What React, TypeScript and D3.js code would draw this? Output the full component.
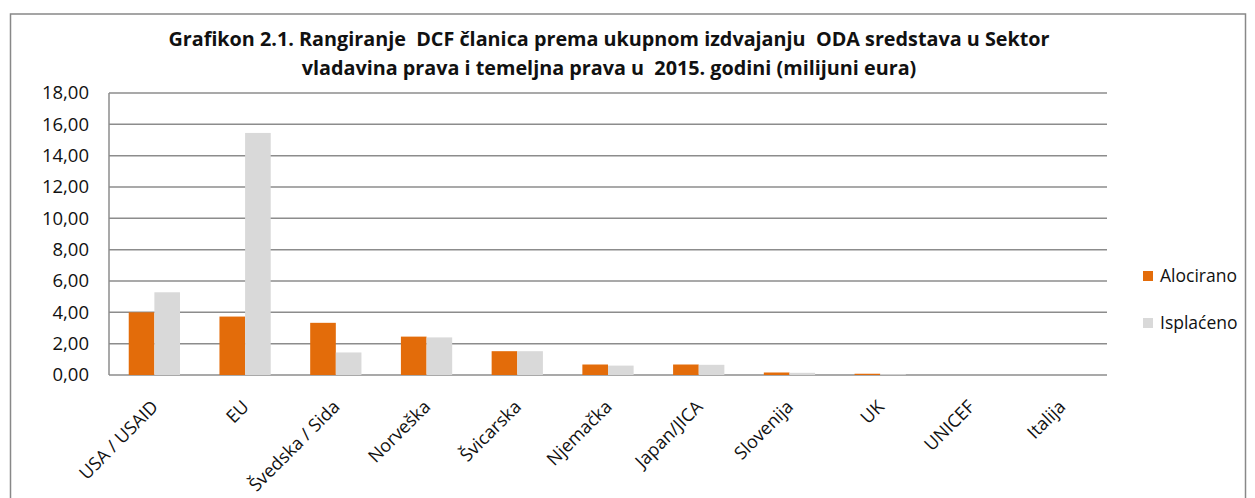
import React, { useEffect, useRef } from 'react';
import * as d3 from 'd3';

const categories = ['USA / USAID', 'EU', 'Švedska / Sida', 'Norveška', 'Švicarska', 'Njemačka', 'Japan/JICA', 'Slovenija', 'UK', 'UNICEF', 'Italija'];
const alocirano = [4.0, 3.73, 3.33, 2.45, 1.52, 0.67, 0.67, 0.16, 0.08, 0, 0];
const isplaceno = [5.28, 15.45, 1.44, 2.4, 1.52, 0.6, 0.65, 0.14, 0.05, 0, 0];
const seriesNames = ['Alocirano', 'Isplaćeno'];
const colors = ['#E36C0A', '#D9D9D9'];
const yTicks = [0, 2, 4, 6, 8, 10, 12, 14, 16, 18];
const titleLines = [
  'Grafikon 2.1. Rangiranje  DCF članica prema ukupnom izdvajanju  ODA sredstava u Sektor',
  'vladavina prava i temeljna prava u  2015. godini (milijuni eura)',
];

const App = () => {
  const chartRef = useRef(null);

  useEffect(() => {
    document.body.style.margin = '0';
    const W = 1255;
    const H = 498;
    const margin = { top: 93, right: 148, bottom: 123, left: 109 };
    const width = W - margin.left - margin.right;
    const height = H - margin.top - margin.bottom;
    const font = '"Open Sans", Lato, sans-serif';

    d3.select(chartRef.current).selectAll('*').remove();
    const root = d3
      .select(chartRef.current)
      .append('svg')
      .attr('width', W)
      .attr('height', H)
      .style('display', 'block');

    root.append('rect')
      .attr('x', 10.5).attr('y', 14).attr('width', 1235).attr('height', 500)
      .attr('fill', '#fff').attr('stroke', '#888').attr('stroke-width', 1.5);

    root.selectAll('text.title')
      .data(titleLines)
      .enter()
      .append('text')
      .attr('class', 'title')
      .attr('x', 609)
      .attr('y', (d, i) => 46 + i * 29)
      .attr('text-anchor', 'middle')
      .attr('font-family', font)
      .attr('font-weight', 'bold')
      .attr('font-size', 19.8)
      .attr('fill', '#111')
      .style('white-space', 'pre')
      .text((d) => d);

    const svg = root.append('g').attr('transform', `translate(${margin.left}, ${margin.top})`);

    const x = d3.scaleBand().domain(categories).range([0, width]);
    const inner = d3.scaleBand().domain(seriesNames).range([0, x.bandwidth() * 0.565]);
    const y = d3.scaleLinear().domain([0, 18]).range([height, 0]);

    svg.selectAll('line.grid')
      .data(yTicks)
      .enter()
      .append('line')
      .attr('x1', 0).attr('x2', width)
      .attr('y1', (d) => y(d)).attr('y2', (d) => y(d))
      .attr('stroke', '#8c8c8c').attr('stroke-width', 1.5);

    svg.append('line')
      .attr('x1', 0).attr('x2', 0).attr('y1', 0).attr('y2', height)
      .attr('stroke', '#8c8c8c').attr('stroke-width', 1.5);

    svg.selectAll('text.ytick')
      .data(yTicks)
      .enter()
      .append('text')
      .attr('x', -20)
      .attr('y', (d) => y(d))
      .attr('dy', '0.35em')
      .attr('text-anchor', 'end')
      .attr('font-family', font)
      .attr('font-size', 18.5)
      .attr('fill', '#111')
      .text((d) => d.toFixed(2).replace('.', ','));

    const offset = (x.bandwidth() - inner.range()[1]) / 2;
    [alocirano, isplaceno].forEach((vals, s) => {
      svg.selectAll(`rect.s${s}`)
        .data(vals)
        .enter()
        .append('rect')
        .attr('x', (d, i) => x(categories[i]) + offset + inner(seriesNames[s]))
        .attr('y', (d) => y(d))
        .attr('width', inner.bandwidth())
        .attr('height', (d) => height - y(d))
        .attr('fill', colors[s]);
    });

    svg.selectAll('text.xlab')
      .data(categories)
      .enter()
      .append('text')
      .attr('transform', (d) => `translate(${x(d) + x.bandwidth() / 2 + 5}, ${height + 33}) rotate(-45)`)
      .attr('text-anchor', 'end')
      .attr('font-family', font)
      .attr('font-size', 18)
      .attr('fill', '#111')
      .text((d) => d);

    const legend = root.append('g').attr('transform', 'translate(1143, 276)');
    seriesNames.forEach((name, i) => {
      legend.append('rect')
        .attr('x', 0).attr('y', i * 47 - 5).attr('width', 10).attr('height', 10)
        .attr('fill', colors[i]);
      legend.append('text')
        .attr('x', 17).attr('y', i * 47)
        .attr('dy', '0.35em')
        .attr('font-family', font)
        .attr('font-size', 17.5)
        .attr('fill', '#111')
        .text(name);
    });
  }, []);

  return <div ref={chartRef} />;
};

export default App;
